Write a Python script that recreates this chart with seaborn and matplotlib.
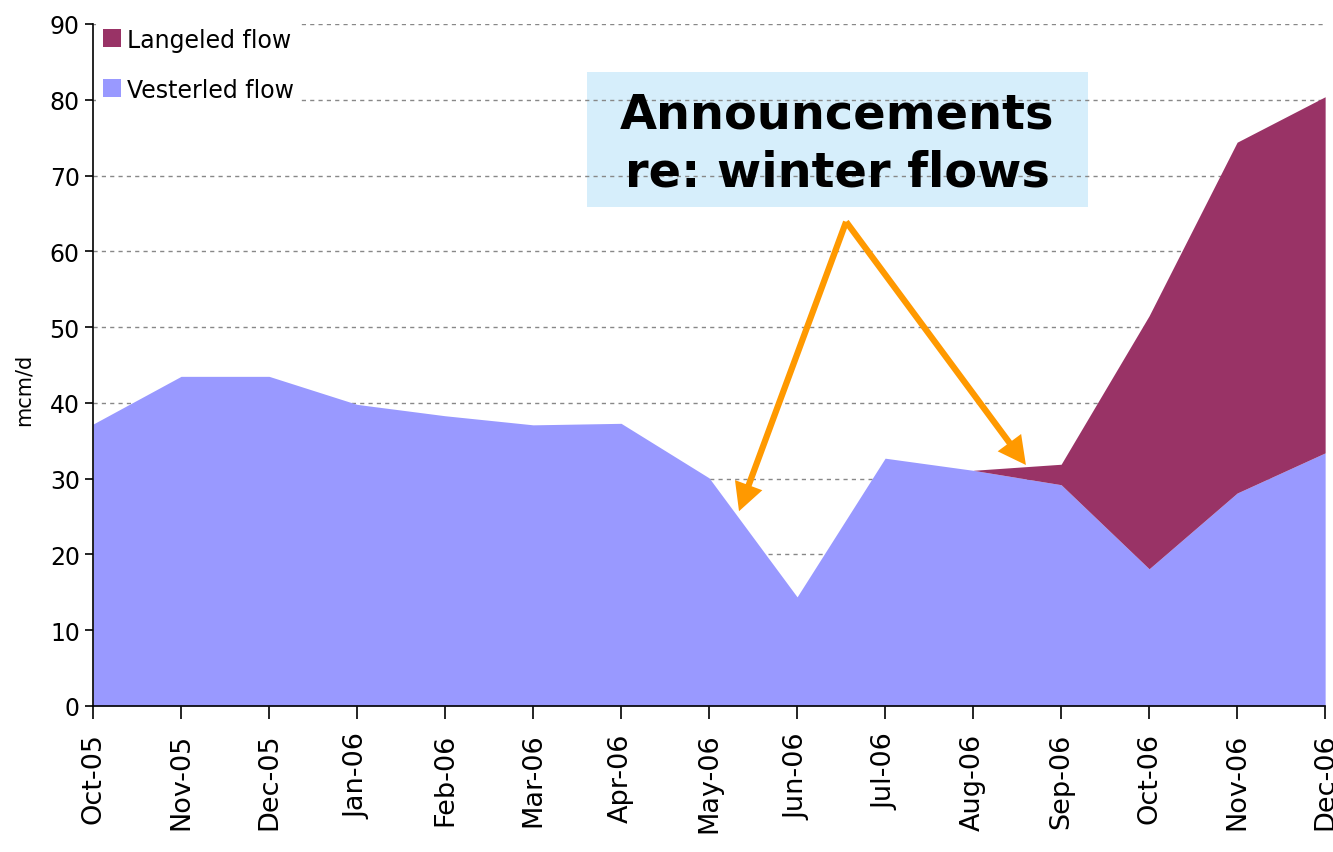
import numpy as np
import pandas as pd
import matplotlib
matplotlib.use("Agg")
import matplotlib.pyplot as plt
import matplotlib.patches as mpatches
import seaborn as sns

# ---------------------------------------
# data
# ---------------------------------------
months = ["Oct-05", "Nov-05", "Dec-05", "Jan-06", "Feb-06", "Mar-06", "Apr-06",
          "May-06", "Jun-06", "Jul-06", "Aug-06", "Sep-06", "Oct-06", "Nov-06", "Dec-06"]
vesterled = [37.2, 43.5, 43.5, 39.8, 38.3, 37.1, 37.3,
             30.1, 14.4, 32.7, 31.1, 29.2, 18.1, 28.1, 33.4]
langeled = [0, 0, 0, 0, 0, 0, 0,
            0, 0, 0, 0, 2.7, 33.4, 46.3, 47.0]

df = pd.DataFrame({"month": months, "Vesterled flow": vesterled, "Langeled flow": langeled})
x = np.arange(len(df))

VEST_COLOR = "#9999FF"
LANG_COLOR = "#993366"
ARROW_COLOR = "#FF9900"

sns.set_style("white")
plt.rcParams["font.family"] = ["DejaVu Sans"]
plt.rcParams["text.color"] = "black"
plt.rcParams["xtick.color"] = "black"
plt.rcParams["ytick.color"] = "black"
plt.rcParams["axes.labelcolor"] = "black"

fig = plt.figure(figsize=(13.33, 8.53), dpi=100)
ax = fig.add_axes([0.0698, 0.1712, 0.9243, 0.7995])

ax.stackplot(x, df["Vesterled flow"], df["Langeled flow"],
             colors=[VEST_COLOR, LANG_COLOR], labels=["Vesterled flow", "Langeled flow"],
             linewidth=0, zorder=2)

ax.set_xlim(0, len(df) - 1)
ax.set_ylim(0, 90)
ax.set_yticks(range(0, 91, 10))
ax.set_xticks(x)
ax.set_xticklabels(df["month"], rotation=90, fontsize=19.5)
ax.tick_params(axis="y", labelsize=17, length=6, width=1.2, direction="out", left=True)
ax.tick_params(axis="x", length=9, width=1.2, direction="out", bottom=True, pad=10)
ax.set_ylabel("mcm/d", fontsize=15)
ax.yaxis.set_label_coords(-0.048, 0.465)

# dotted grid
ax.set_axisbelow(True)
ax.yaxis.grid(True, linestyle=(0, (3, 3)), color="#888888", linewidth=1.0)
ax.xaxis.grid(False)
sns.despine(ax=ax, top=True, right=True)
for s in ["left", "bottom"]:
    ax.spines[s].set_color("black")
    ax.spines[s].set_linewidth(1.2)

# legend: Langeled first
handles, labels = ax.get_legend_handles_labels()
leg = ax.legend(handles[::-1], labels[::-1], loc="upper left", fontsize=17,
                frameon=True, facecolor="white", edgecolor="none", framealpha=1,
                handlelength=0.8, handleheight=0.8, handletextpad=0.25,
                labelspacing=1.1, borderaxespad=0.0, borderpad=0.3,
                bbox_to_anchor=(0.002, 1.005))
leg.set_zorder(5)

# annotation box
box = mpatches.Rectangle((0.401, 0.7317), 0.4066, 0.1979, transform=ax.transAxes,
                         facecolor="#d6eefb", edgecolor="none", zorder=0.3)
ax.add_patch(box)
ax.text(0.604, 0.8255, "Announcements\nre: winter flows", transform=ax.transAxes,
        ha="center", va="center", fontsize=34.5, fontweight="bold",
        linespacing=1.3, zorder=6)

# arrows from a common point
start = (8.557, 63.9)
for tip in [(7.34, 25.7), (10.60, 31.8)]:
    ax.annotate("", xy=tip, xytext=start,
                arrowprops=dict(width=4.5, headwidth=21, headlength=20,
                                facecolor=ARROW_COLOR, edgecolor="none",
                                shrink=0.0),
                zorder=7)

fig.savefig("out.png", dpi=100)
